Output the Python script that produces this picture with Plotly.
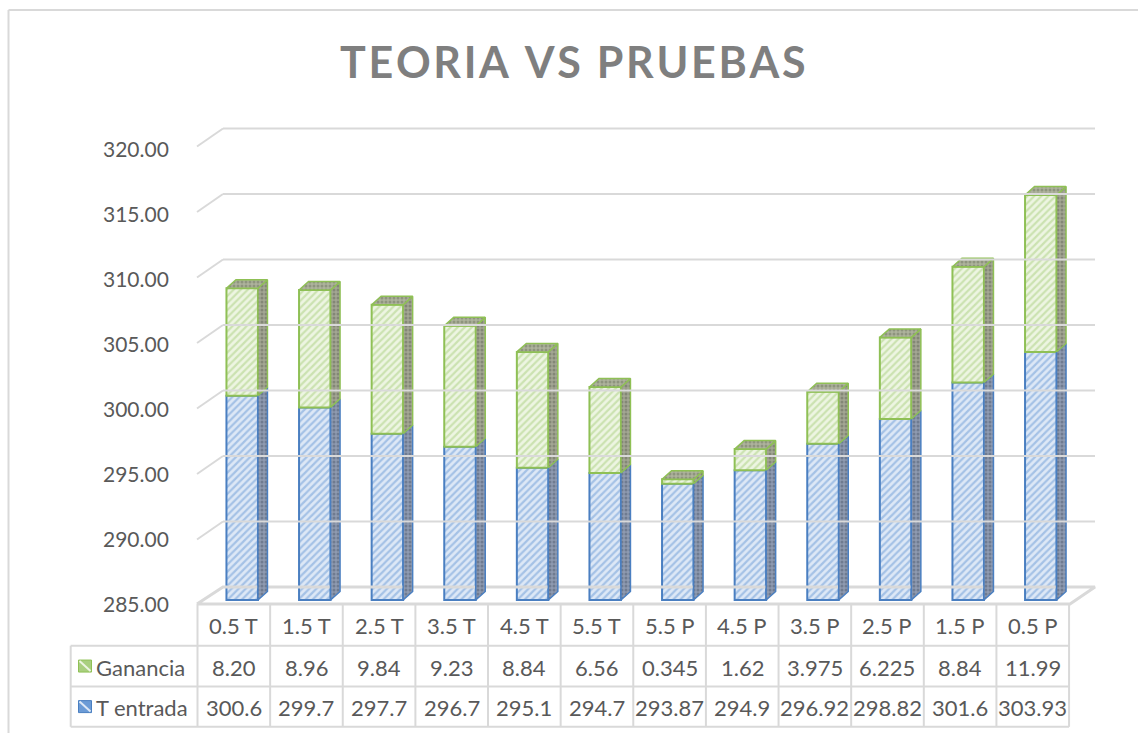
import plotly.graph_objects as go

# ---------------- data ----------------
categories = ["0.5 T", "1.5 T", "2.5 T", "3.5 T", "4.5 T", "5.5 T",
              "5.5 P", "4.5 P", "3.5 P", "2.5 P", "1.5 P", "0.5 P"]
t_entrada = [300.6, 299.7, 297.7, 296.7, 295.1, 294.7,
             293.87, 294.9, 296.92, 298.82, 301.6, 303.93]
ganancia = [8.20, 8.96, 9.84, 9.23, 8.84, 6.56,
            0.345, 1.62, 3.975, 6.225, 8.84, 11.99]
ganancia_text = ["8.20", "8.96", "9.84", "9.23", "8.84", "6.56",
                 "0.345", "1.62", "3.975", "6.225", "8.84", "11.99"]
t_entrada_text = ["300.6", "299.7", "297.7", "296.7", "295.1", "294.7",
                  "293.87", "294.9", "296.92", "298.82", "301.6", "303.93"]
y_ticks = [285, 290, 295, 300, 305, 310, 315, 320]
y_base = 285
title = "TEORIA VS PRUEBAS"
series_names = ["Ganancia", "T entrada"]

# ---------------- layout constants (pixels) ----------------
W, H = 1138, 733
X0_PX = 242.2      # centre of first bar front face
STEP_PX = 72.6     # category spacing
BASE_PX = 600.0    # pixel of y_base on bar plane
PX_PER_UNIT = 13.1
BAR_W_PX = 31.5
DEPTH_DX, DEPTH_DY = 9.5, 8.5     # bar depth (px)
WALL_BACK_DY = 13.0               # back wall above bar plane (px)
WALL_FRONT_DY = 5.0               # front edge below bar plane (px)
WALL_LEFT_FRONT, WALL_LEFT_BACK = 197.0, 223.0
FLOOR_RIGHT_FRONT, FLOOR_RIGHT_BACK = 1070.0, 1095.0
LABEL_BASE_PX, LABEL_PX_PER_UNIT = 603.0, 13.0

def xd(px):  # pixel -> category units
    return (px - X0_PX) / STEP_PX

def yd_off(px):  # pixel offset -> value units
    return px / PX_PER_UNIT

x_range = [xd(0), xd(W)]
y_range = [y_base - (H - BASE_PX) / PX_PER_UNIT, y_base + BASE_PX / PX_PER_UNIT]

def ypaper(py):
    return 1 - py / H

GRID = "#d9d9d9"
TXT = "#595959"
FONT = "Lato"

BLUE_LINE = "#4a7fc1"
BLUE_BG = "#dde8f6"
BLUE_FG = "#6b9bd6"
GREEN_LINE = "#8fc055"
GREEN_BG = "#edf5e2"
GREEN_FG = "#a9cf7f"

n = len(categories)
idx = list(range(n))
bw = BAR_W_PX / STEP_PX
ddx = DEPTH_DX / STEP_PX
ddy = yd_off(DEPTH_DY)

fig = go.Figure()

# ---------- walls / floor / gridlines ----------
shapes = []
back = yd_off(WALL_BACK_DY)
front = yd_off(WALL_FRONT_DY)
for v in y_ticks[1:]:
    shapes.append(dict(type="line", xref="x", yref="y",
                       x0=xd(WALL_LEFT_FRONT), y0=v - front,
                       x1=xd(WALL_LEFT_BACK), y1=v + back,
                       line=dict(color=GRID, width=2)))
    shapes.append(dict(type="line", xref="x", yref="y",
                       x0=xd(WALL_LEFT_BACK), y0=v + back,
                       x1=xd(FLOOR_RIGHT_BACK), y1=v + back,
                       line=dict(color=GRID, width=2)))
# floor outline
floor_front = y_base - yd_off(4)
floor_back = y_base + back
fx = [xd(WALL_LEFT_FRONT), xd(WALL_LEFT_BACK), xd(FLOOR_RIGHT_BACK), xd(FLOOR_RIGHT_FRONT), xd(WALL_LEFT_FRONT)]
fy = [floor_front, floor_back, floor_back, floor_front, floor_front]
fig.add_trace(go.Scatter(x=fx, y=fy, mode="lines", line=dict(color=GRID, width=3),
                         hoverinfo="skip", showlegend=False))

# ---------- bar front faces ----------
fig.add_trace(go.Bar(
    x=idx, y=[t - y_base for t in t_entrada], base=[y_base] * n, width=bw,
    name=series_names[1],
    marker=dict(color=BLUE_BG, line=dict(color=BLUE_LINE, width=2),
                pattern=dict(shape="/", fgcolor=BLUE_FG, bgcolor=BLUE_BG,
                             size=5, solidity=0.45)),
    showlegend=False))
fig.add_trace(go.Bar(
    x=idx, y=ganancia, base=t_entrada, width=bw,
    name=series_names[0],
    marker=dict(color=GREEN_BG, line=dict(color=GREEN_LINE, width=2),
                pattern=dict(shape="/", fgcolor=GREEN_FG, bgcolor=GREEN_BG,
                             size=5, solidity=0.45)),
    showlegend=False))

# ---------- side and top faces ----------
def side_poly(lo_list, hi_list):
    xs, ys = [], []
    for i in idx:
        lo, hi = lo_list[i], hi_list[i]
        xr = i + bw / 2
        xs += [xr, xr + ddx, xr + ddx, xr, xr, None]
        ys += [lo, lo + ddy, hi + ddy, hi, lo, None]
    return xs, ys

tops = [t + g for t, g in zip(t_entrada, ganancia)]
bx, by = side_poly([y_base] * n, t_entrada)
fig.add_trace(go.Scatter(x=bx, y=by, mode="lines", fill="toself",
                         fillcolor="#7f8aa0",
                         fillpattern=dict(shape=".", fgcolor="#4f5b70", bgcolor="#8e9ab0",
                                          size=4, solidity=0.45),
                         line=dict(color=BLUE_LINE, width=1.5),
                         hoverinfo="skip", showlegend=False))
gx, gy = side_poly(t_entrada, tops)
fig.add_trace(go.Scatter(x=gx, y=gy, mode="lines", fill="toself",
                         fillcolor="#989b88",
                         fillpattern=dict(shape=".", fgcolor="#64685a", bgcolor="#a3a693",
                                          size=4, solidity=0.45),
                         line=dict(color=GREEN_LINE, width=1.5),
                         hoverinfo="skip", showlegend=False))
tx, ty = [], []
for i in idx:
    hi = tops[i]
    xl, xr = i - bw / 2, i + bw / 2
    tx += [xl, xl + ddx, xr + ddx, xr, xl, None]
    ty += [hi, hi + ddy, hi + ddy, hi, hi, None]
fig.add_trace(go.Scatter(x=tx, y=ty, mode="lines", fill="toself",
                         fillcolor="#a4a994",
                         fillpattern=dict(shape=".", fgcolor="#70755f", bgcolor="#adb29c",
                                          size=4, solidity=0.45),
                         line=dict(color=GREEN_LINE, width=1.5),
                         hoverinfo="skip", showlegend=False))

# ---------- y tick labels ----------
annotations = []
for v in y_ticks:
    annotations.append(dict(xref="paper", yref="paper", x=171 / W,
                            y=ypaper(LABEL_BASE_PX - (v - y_base) * LABEL_PX_PER_UNIT),
                            text=f"{v:.2f}", showarrow=False, xanchor="right",
                            yanchor="middle", font=dict(family=FONT, size=21, color=TXT)))

# ---------- data table ----------
TBL_LEFT = 70.7
TBL_STEP = 72.63
TBL_X0 = 197.5
ROW_Y = [604.0, 645.7, 686.4, 726.8]
TBL_FONT = 22
col_b = [TBL_X0 + TBL_STEP * k for k in range(n + 1)]
for xb in col_b:
    shapes.append(dict(type="line", xref="paper", yref="paper",
                       x0=xb / W, x1=xb / W, y0=ypaper(ROW_Y[0]), y1=ypaper(ROW_Y[3]),
                       line=dict(color=GRID, width=2)))
shapes.append(dict(type="line", xref="paper", yref="paper",
                   x0=TBL_LEFT / W, x1=TBL_LEFT / W, y0=ypaper(ROW_Y[1]), y1=ypaper(ROW_Y[3]),
                   line=dict(color=GRID, width=2)))
for ry in ROW_Y[1:]:
    shapes.append(dict(type="line", xref="paper", yref="paper",
                       x0=TBL_LEFT / W, x1=col_b[-1] / W, y0=ypaper(ry), y1=ypaper(ry),
                       line=dict(color=GRID, width=2)))

row_mid = [(ROW_Y[k] + ROW_Y[k + 1]) / 2 for k in range(3)]
for i in idx:
    cx = (col_b[i] + col_b[i + 1]) / 2 / W
    for k, txt in enumerate([categories[i], ganancia_text[i], t_entrada_text[i]]):
        annotations.append(dict(xref="paper", yref="paper", x=cx, y=ypaper(row_mid[k] + 1),
                                text=txt, showarrow=False, xanchor="center", yanchor="middle",
                                font=dict(family=FONT, size=TBL_FONT, color=TXT)))

# row labels with legend keys
for k, (name, bg, fg, ln) in enumerate([(series_names[0], GREEN_BG, GREEN_FG, GREEN_LINE),
                                         (series_names[1], BLUE_BG, BLUE_FG, BLUE_LINE)]):
    yc = row_mid[k + 1]
    shapes.append(dict(type="rect", xref="paper", yref="paper",
                       x0=78.5 / W, x1=91.5 / W, y0=ypaper(yc + 6), y1=ypaper(yc - 6),
                       fillcolor=fg, line=dict(color=ln, width=1)))
    shapes.append(dict(type="line", xref="paper", yref="paper",
                       x0=79.5 / W, x1=90.5 / W, y0=ypaper(yc - 5), y1=ypaper(yc + 5),
                       line=dict(color=bg, width=2)))
    annotations.append(dict(xref="paper", yref="paper", x=94 / W, y=ypaper(yc + 1),
                            text=name, showarrow=False, xanchor="left", yanchor="middle",
                            font=dict(family=FONT, size=TBL_FONT, color=TXT)))

# title
annotations.append(dict(xref="paper", yref="paper", x=573 / W, y=ypaper(61),
                        text="<b>" + "\u200a".join(title) + "</b>", showarrow=False,
                        xanchor="center", yanchor="middle",
                        font=dict(family=FONT, size=43, color="#7f7f7f")))

# outer frame (left and top visible)
shapes.append(dict(type="line", xref="paper", yref="paper", x0=8.5 / W, x1=1.0,
                   y0=ypaper(10), y1=ypaper(10), line=dict(color=GRID, width=2)))
shapes.append(dict(type="line", xref="paper", yref="paper", x0=8.5 / W, x1=8.5 / W,
                   y0=ypaper(10), y1=0, line=dict(color=GRID, width=2)))

fig.update_layout(
    width=W, height=H,
    margin=dict(l=0, r=0, t=0, b=0),
    paper_bgcolor="white", plot_bgcolor="rgba(0,0,0,0)",
    barmode="overlay",
    xaxis=dict(range=x_range, domain=[0, 1], visible=False, fixedrange=True),
    yaxis=dict(range=y_range, domain=[0, 1], visible=False, fixedrange=True),
    shapes=shapes, annotations=annotations,
    showlegend=False,
)

fig.write_html("out.html", config={"displayModeBar": False},
               post_script="document.body.style.margin='0';")
